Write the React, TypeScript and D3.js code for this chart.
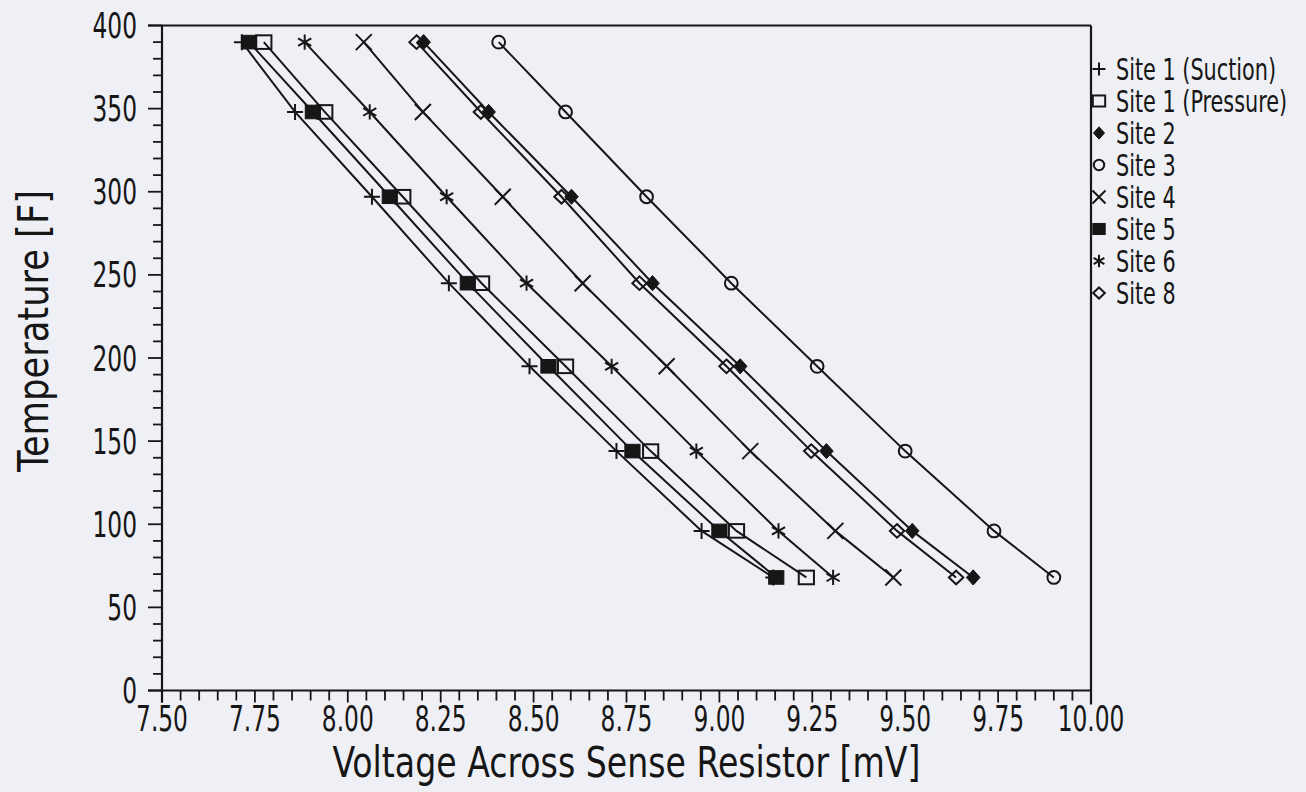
import React from 'react';
import * as d3 from 'd3';

// ---- data ----
const temperatures = [390, 348, 297, 245, 195, 144, 96, 68];
const site1Suction = [7.715, 7.858, 8.065, 8.272, 8.489, 8.723, 8.952, 9.145];
const site1Pressure = [7.774, 7.938, 8.148, 8.36, 8.586, 8.815, 9.046, 9.234];
const site2 = [8.204, 8.379, 8.602, 8.82, 9.056, 9.288, 9.519, 9.683];
const site3 = [8.406, 8.586, 8.804, 9.032, 9.263, 9.5, 9.739, 9.9];
const site4 = [8.043, 8.202, 8.417, 8.632, 8.858, 9.083, 9.312, 9.468];
const site5 = [7.734, 7.906, 8.113, 8.323, 8.54, 8.766, 9.0, 9.153];
const site6 = [7.884, 8.059, 8.266, 8.481, 8.71, 8.938, 9.159, 9.306];
const site8 = [8.185, 8.358, 8.575, 8.785, 9.019, 9.247, 9.478, 9.637];

const seriesNames = [
  'Site 1 (Suction)',
  'Site 1 (Pressure)',
  'Site 2',
  'Site 3',
  'Site 4',
  'Site 5',
  'Site 6',
  'Site 8',
];
const seriesValues = [site1Suction, site1Pressure, site2, site3, site4, site5, site6, site8];
const seriesMarkers = ['plus', 'openSquare', 'filledDiamond', 'openCircle', 'cross', 'filledSquare', 'asterisk', 'openDiamond'];

const xTickValues = [7.5, 7.75, 8.0, 8.25, 8.5, 8.75, 9.0, 9.25, 9.5, 9.75, 10.0];
const yTickValues = [0, 50, 100, 150, 200, 250, 300, 350, 400];

const xTitle = 'Voltage Across Sense Resistor [mV]';
const yTitle = 'Temperature [F]';

// ---- layout ----
const W = 1306;
const H = 792;
const P = { left: 162, right: 1091, top: 25.5, bottom: 690.5 };
const INK = '#161616';
const FONT = "'DejaVu Sans Condensed', 'DejaVu Sans', sans-serif";

const x = d3.scaleLinear().domain([7.5, 10]).range([P.left, P.right]);
const y = d3.scaleLinear().domain([0, 400]).range([P.bottom, P.top]);

function Marker({ type, cx, cy, s }: { type: string; cx: number; cy: number; s: number }) {
  const h = s / 2;
  const sw = 2;
  switch (type) {
    case 'plus':
      return (
        <path d={`M${cx - h},${cy}H${cx + h}M${cx},${cy - h}V${cy + h}`} stroke={INK} strokeWidth={sw} fill="none" />
      );
    case 'cross':
      return (
        <path
          d={`M${cx - h},${cy - h}L${cx + h},${cy + h}M${cx - h},${cy + h}L${cx + h},${cy - h}`}
          stroke={INK}
          strokeWidth={sw}
          fill="none"
        />
      );
    case 'asterisk': {
      const a = h * 0.95;
      const dx = a * Math.cos(Math.PI / 6);
      const dy = a * Math.sin(Math.PI / 6);
      return (
        <path
          d={`M${cx},${cy - a}V${cy + a}M${cx - dx},${cy - dy}L${cx + dx},${cy + dy}M${cx - dx},${cy + dy}L${cx + dx},${cy - dy}`}
          stroke={INK}
          strokeWidth={sw}
          fill="none"
        />
      );
    }
    case 'openSquare':
      return <rect x={cx - h * 0.95} y={cy - h * 0.85} width={s * 0.95} height={s * 0.85} stroke={INK} strokeWidth={sw} fill="none" />;
    case 'filledSquare':
      return <rect x={cx - h * 0.95} y={cy - h * 0.85} width={s * 0.95} height={s * 0.85} stroke={INK} strokeWidth={1} fill={INK} />;
    case 'openCircle':
      return <circle cx={cx} cy={cy} r={h * 0.8} stroke={INK} strokeWidth={sw} fill="none" />;
    case 'filledDiamond':
      return (
        <path d={`M${cx},${cy - h * 0.95}L${cx + h * 0.85},${cy}L${cx},${cy + h * 0.95}L${cx - h * 0.85},${cy}Z`} fill={INK} stroke={INK} strokeWidth={1} />
      );
    case 'openDiamond':
      return (
        <path d={`M${cx},${cy - h * 0.85}L${cx + h * 0.9},${cy}L${cx},${cy + h * 0.85}L${cx - h * 0.9},${cy}Z`} fill="none" stroke={INK} strokeWidth={sw} />
      );
    default:
      return null;
  }
}

export default function App() {
  const line = d3
    .line<[number, number]>()
    .x((d) => x(d[0]))
    .y((d) => y(d[1]));

  const xMinor = d3.range(0, 51).map((i) => 7.5 + i * 0.05);
  const yMinor = d3.range(0, 41).map((i) => i * 10);

  const legendTop = 69;
  const legendStep = 32;

  return (
    <svg
      width={W}
      height={H}
      viewBox={`0 0 ${W} ${H}`}
      style={{ position: 'absolute', left: 0, top: 0, background: '#eef0f5' }}
      fontFamily={FONT}
    >
      <rect x={0} y={0} width={W} height={H} fill="#eef0f5" />

      {/* frame */}
      <g stroke={INK} strokeWidth={2.2} fill="none">
        <line x1={P.left - 14} x2={P.right} y1={P.top} y2={P.top} />
        <line x1={P.left - 14} x2={P.right} y1={P.bottom} y2={P.bottom} />
        <line x1={P.left} x2={P.left} y1={P.top} y2={P.bottom + 12} />
        <line x1={P.right} x2={P.right} y1={P.top} y2={P.bottom + 14} />
      </g>

      {/* x ticks */}
      <g stroke={INK} strokeWidth={1.8}>
        {xMinor.map((v, i) => (
          <line key={i} x1={x(v)} x2={x(v)} y1={P.bottom} y2={P.bottom + (i % 5 === 0 ? 12 : 10)} />
        ))}
      </g>
      {/* y ticks */}
      <g stroke={INK} strokeWidth={1.8}>
        {yMinor.map((v, i) => (
          <line key={i} x1={P.left - (i % 5 === 0 ? 14 : 9)} x2={P.left} y1={y(v)} y2={y(v)} />
        ))}
      </g>

      {/* tick labels */}
      <g fill={INK} fontSize={36}>
        {xTickValues.map((v) => (
          <g key={v} transform={`translate(${x(v)},${P.bottom + 28}) scale(0.72,1)`}>
            <text textAnchor="middle" dominantBaseline="central">
              {v.toFixed(2)}
            </text>
          </g>
        ))}
        {yTickValues.map((v) => (
          <g key={v} transform={`translate(${P.left - 25},${y(v)}) scale(0.72,1)`}>
            <text textAnchor="end" dominantBaseline="central">
              {String(v)}
            </text>
          </g>
        ))}
      </g>

      {/* axis titles */}
      <text
        x={(P.left + P.right) / 2}
        y={762}
        textAnchor="middle"
        dominantBaseline="central"
        fontSize={42}
        fill={INK}
        textLength={588}
        lengthAdjust="spacingAndGlyphs"
      >
        {xTitle}
      </text>
      <text
        transform={`translate(33,331) rotate(-90)`}
        textAnchor="middle"
        dominantBaseline="central"
        fontSize={42}
        fill={INK}
        textLength={282}
        lengthAdjust="spacingAndGlyphs"
      >
        {yTitle}
      </text>

      {/* series lines */}
      <g fill="none" stroke={INK} strokeWidth={2}>
        {seriesValues.map((vals, si) => (
          <path key={si} d={line(vals.map((v, i) => [v, temperatures[i]] as [number, number])) || ''} />
        ))}
      </g>

      {/* markers */}
      {seriesValues.map((vals, si) => (
        <g key={si}>
          {vals.map((v, i) => (
            <Marker key={i} type={seriesMarkers[si]} cx={x(v)} cy={y(temperatures[i])} s={16} />
          ))}
        </g>
      ))}

      {/* legend */}
      {seriesNames.map((name, i) => {
        const ly = legendTop + i * legendStep;
        return (
          <g key={name}>
            <Marker type={seriesMarkers[i]} cx={P.right + 8} cy={ly} s={13} />
            <g transform={`translate(${P.right + 25},${ly}) scale(0.77,1)`}>
              <text fontSize={30} fill={INK} dominantBaseline="central">
                {name}
              </text>
            </g>
          </g>
        );
      })}
    </svg>
  );
}
